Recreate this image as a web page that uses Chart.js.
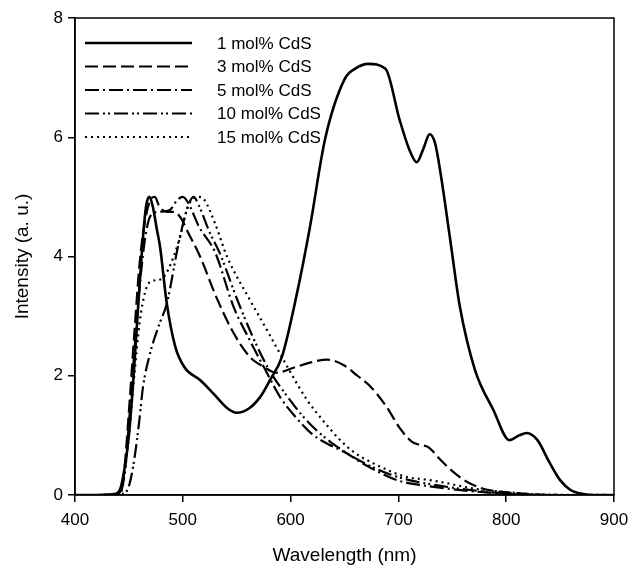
<!DOCTYPE html>
<html>
<head>
<meta charset="utf-8">
<script src="https://cdn.jsdelivr.net/npm/chart.js@4.4.0/dist/chart.umd.min.js"></script>
<style>
  html, body { margin: 0; padding: 0; background: #fff; }
  #wrap { width: 632px; height: 574px; }
</style>
</head>
<body>
<div id="wrap"><canvas id="pl"></canvas></div>
<script>
// series labels
const labels = ['1 mol% CdS', '3 mol% CdS', '5 mol% CdS', '10 mol% CdS', '15 mol% CdS'];

// 1 mol% (solid)
const wl1 = [400, 420, 438, 442, 446, 450, 454, 458, 463, 466, 469, 472, 476, 479, 485, 493, 502, 516, 528, 541, 550, 562, 572, 581, 592, 606, 618, 632, 650, 660, 672, 688, 701, 710, 717, 723, 729, 734, 739, 748, 757, 771, 788, 803, 812, 819, 829, 840, 850, 860, 868, 880, 900];
const int1 = [0, 0, 0.02, 0.1, 0.45, 1.0, 1.9, 3.0, 4.3, 4.85, 5.0, 4.85, 4.45, 4.15, 3.23, 2.49, 2.13, 1.93, 1.71, 1.46, 1.38, 1.46, 1.65, 1.93, 2.32, 3.39, 4.5, 5.97, 6.97, 7.15, 7.23, 7.15, 6.3, 5.8, 5.58, 5.8, 6.05, 5.9, 5.41, 4.29, 3.16, 2.1, 1.43, 0.92, 1.0, 1.04, 0.92, 0.55, 0.25, 0.08, 0.03, 0, 0];

// 3 mol% (dashed)
const wl3 = [400, 420, 440, 445, 450, 455, 460, 465, 470, 474, 478, 485, 492, 498, 505, 516, 532, 547, 562, 575, 587, 602, 618, 634, 649, 662, 674, 689, 701, 712, 720, 728, 739, 754, 769, 785, 810, 850, 900];
const int3 = [0, 0, 0.02, 0.3, 1.4, 2.7, 3.9, 4.6, 4.95, 5.0, 4.85, 4.75, 4.75, 4.65, 4.4, 4.0, 3.28, 2.72, 2.32, 2.15, 2.05, 2.13, 2.22, 2.27, 2.18, 2.0, 1.82, 1.48, 1.13, 0.9, 0.84, 0.8, 0.59, 0.34, 0.17, 0.08, 0.03, 0, 0];

// 5 mol% (dash-dot)
const wl5 = [400, 420, 441, 446, 450, 455, 460, 465, 470, 478, 488, 495, 500, 505, 515, 530, 547, 562, 578, 590, 605, 620, 635, 650, 665, 680, 700, 720, 740, 770, 800, 830, 900];
const int5 = [0, 0, 0.02, 0.35, 1.2, 2.4, 3.5, 4.3, 4.68, 4.75, 4.78, 4.95, 5.0, 4.9, 4.5, 4.07, 3.16, 2.6, 2.05, 1.65, 1.3, 1.02, 0.85, 0.72, 0.55, 0.4, 0.24, 0.17, 0.12, 0.06, 0.02, 0, 0];

// 10 mol% (dash-dot-dot)
const wl10 = [400, 420, 444, 450, 455, 460, 463, 470, 479, 485, 497, 505, 510, 515, 525, 534, 550, 565, 580, 595, 610, 625, 640, 655, 670, 690, 710, 730, 760, 790, 830, 900];
const int10 = [0, 0, 0.02, 0.15, 0.6, 1.3, 1.8, 2.4, 2.9, 3.2, 4.3, 4.85, 5.0, 4.85, 4.4, 4.07, 3.3, 2.65, 2.1, 1.7, 1.35, 1.07, 0.85, 0.67, 0.52, 0.36, 0.25, 0.18, 0.1, 0.04, 0, 0];

// 15 mol% (dotted)
const wl15 = [400, 420, 442, 446, 450, 455, 460, 465, 470, 480, 487, 497, 505, 515, 520, 530, 541, 562, 578, 597, 615, 630, 646, 660, 677, 695, 708, 725, 739, 755, 769, 800, 830, 900];
const int15 = [0, 0, 0.02, 0.35, 1.0, 2.0, 2.9, 3.4, 3.58, 3.62, 3.8, 4.3, 4.85, 5.0, 4.95, 4.55, 4.0, 3.28, 2.77, 2.15, 1.6, 1.25, 0.92, 0.7, 0.53, 0.38, 0.3, 0.26, 0.22, 0.16, 0.11, 0.05, 0.01, 0];

// axis ticks
const xTicks = [400, 500, 600, 700, 800, 900];
const yTicks = [0, 2, 4, 6, 8];

const wls = [wl1, wl3, wl5, wl10, wl15];
const ints = [int1, int3, int5, int10, int15];
const dashes = [[], [13, 5], [14, 4, 2, 4], [14, 4, 2, 3, 2, 4], [2, 4]];
const widths = [2.6, 2.2, 2.2, 2.2, 2.2];

const datasets = labels.map((lab, i) => ({
    label: lab,
    data: wls[i].map((w, j) => ({ x: w, y: ints[i][j] })),
    borderColor: '#000',
    borderWidth: widths[i],
    borderDash: dashes[i],
    pointRadius: 0,
    fill: false,
    cubicInterpolationMode: 'monotone'
}));

// cadre + légende dessinés à la main
const framePlugin = {
    id: 'frame',
    afterDatasetsDraw(chart) {
        const { ctx, chartArea: a } = chart;
        ctx.save();
        ctx.strokeStyle = '#000';
        ctx.lineWidth = 1.5;
        ctx.strokeRect(a.left, a.top, a.right - a.left, a.bottom - a.top);

        // légende
        ctx.font = '17px "Liberation Sans", Arial, sans-serif';
        ctx.textBaseline = 'middle';
        ctx.fillStyle = '#000';
        chart.data.datasets.forEach((ds, i) => {
            const y = 43 + i * 23.5;
            ctx.beginPath();
            ctx.setLineDash(ds.borderDash);
            ctx.lineWidth = ds.borderWidth;
            ctx.moveTo(85, y);
            ctx.lineTo(192, y);
            ctx.stroke();
            ctx.setLineDash([]);
            ctx.fillText(ds.label, 217, y + 1);
        });
        ctx.restore();
    }
};

const tickFont = { family: '"Liberation Sans", Arial, sans-serif', size: 17 };
const titleFont = { family: '"Liberation Sans", Arial, sans-serif', size: 19 };

new Chart(document.getElementById('pl'), {
    type: 'line',
    data: { datasets },
    options: {
        responsive: true,
        maintainAspectRatio: false,
        animation: false,
        layout: { padding: { left: 0, top: 18, right: 18, bottom: 0 } },
        plugins: { legend: { display: false }, tooltip: { enabled: false } },
        scales: {
            x: {
                type: 'linear',
                min: 400, max: 900,
                afterBuildTicks: s => { s.ticks = xTicks.map(v => ({ value: v })); },
                afterFit: s => { s.height = 79; s.paddingRight = 0; },
                grid: { drawOnChartArea: false, drawTicks: true, tickLength: 7, color: '#000', lineWidth: 1.5 },
                border: { display: true, color: '#000', width: 1.5 },
                ticks: { color: '#000', font: tickFont, padding: 8, maxRotation: 0 },
                title: { display: true, text: 'Wavelength (nm)', color: '#000', font: titleFont, padding: { top: 7, bottom: 7 } }
            },
            y: {
                type: 'linear',
                min: 0, max: 8,
                afterBuildTicks: s => { s.ticks = yTicks.map(v => ({ value: v })); },
                afterFit: s => { s.width = 75; },
                grid: { drawOnChartArea: false, drawTicks: true, tickLength: 7, color: '#000', lineWidth: 1.5 },
                border: { display: true, color: '#000', width: 1.5 },
                ticks: { color: '#000', font: tickFont, padding: 5 },
                title: { display: true, text: 'Intensity (a. u.)', color: '#000', font: titleFont, padding: { top: 11, bottom: 4 } }
            }
        }
    },
    plugins: [framePlugin]
});
</script>
</body>
</html>
